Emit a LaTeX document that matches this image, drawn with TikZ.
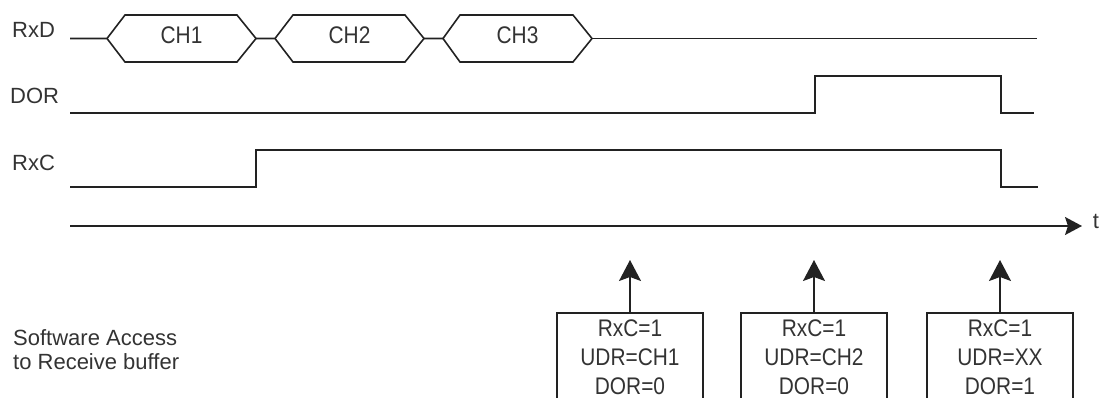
\documentclass[tikz,border=0pt]{standalone}
\usepackage{fontspec}
\setmainfont{Liberation Sans}
\newfontfamily\narrowf{Liberation Sans}[FakeStretch=0.87]
\usetikzlibrary{arrows.meta}
\definecolor{ink}{HTML}{222222}
\definecolor{txt}{HTML}{333333}
\begin{document}
\begin{tikzpicture}[x=1pt,y=-1pt,
  sig/.style={draw=ink, line width=1.6pt, line join=miter},
  lbl/.style={inner sep=0pt, text=txt, font=\fontsize{22}{24}\selectfont},
  boxtxt/.style={inner sep=0pt, text=txt, font=\narrowf\fontsize{24}{26}\selectfont},
  regbox/.style={draw=ink, line width=1.6pt, minimum width=146pt, minimum height=110pt, anchor=north, inner sep=0pt},
  taxis/.style={draw=ink, line width=1.6pt, -{Stealth[length=17pt,width=18pt,inset=3pt]}},
  uparrow/.style={draw=ink, line width=1.6pt, -{Stealth[length=21pt,width=22pt,inset=4pt]}}]
\useasboundingbox (0,0) rectangle (1101,398);

% labels
\node[lbl, anchor=west] (lrxd) at (12,29.5) {RxD};
\node[lbl, anchor=west] (ldor) at (10,95.5) {DOR};
\node[lbl, anchor=west] (lrxc) at (12,163) {RxC};
\node[lbl, anchor=west] (lsw1) at (13,338) {Software Access};
\node[lbl, anchor=west] (lsw2) at (13,362) {to Receive buffer};

% RxD
\draw[sig] (70,38.5) -- (107,38.5) -- (125,15) -- (237,15) -- (256,38.5) -- (237,62) -- (125,62) -- (107,38.5);
\draw[sig] (256,38.5) -- (275,38.5) -- (293,15) -- (405,15) -- (424,38.5) -- (405,62) -- (293,62) -- (275,38.5);
\draw[sig] (424,38.5) -- (443,38.5) -- (460,15) -- (573,15) -- (592,38.5) -- (573,62) -- (460,62) -- (443,38.5);
\draw[sig] (592,38.5) -- (1037,38.5);
\node[boxtxt] (ch1) at (181.5,35) {CH1};
\node[boxtxt] (ch2) at (349.5,35) {CH2};
\node[boxtxt] (ch3) at (517.5,35) {CH3};

% DOR
\draw[sig] (70,113) -- (815,113) -- (815,76) -- (1001,76) -- (1001,113) -- (1034,113);

% RxC
\draw[sig] (70,187) -- (256,187) -- (256,150) -- (1001,150) -- (1001,187) -- (1038,187);

% time axis
\coordinate (t0) at (70,226);
\coordinate (t1) at (1082,226);
\draw[taxis] (t0) -- (t1);
\node[lbl] (tl) at (1096,221) {t};

% boxes
\node[regbox] (b1) at (630,312) {};
\node[regbox] (b2) at (814,312) {};
\node[regbox] (b3) at (1000,312) {};
\foreach \b/\u/\d in {b1/CH1/0, b2/CH2/0, b3/XX/1}{
  \node[boxtxt] (\b r) at ([yshift=-16.5pt]\b.north) {RxC=1};
  \node[boxtxt] (\b u) at ([yshift=-45.5pt]\b.north) {UDR=\u};
  \node[boxtxt] (\b d) at ([yshift=-74.5pt]\b.north) {DOR=\d};
}
\coordinate (a1) at (630,260);
\coordinate (a2) at (814,260);
\coordinate (a3) at (1000,260);
\draw[uparrow] (b1.north) -- (a1);
\draw[uparrow] (b2.north) -- (a2);
\draw[uparrow] (b3.north) -- (a3);
\end{tikzpicture}
\end{document}
